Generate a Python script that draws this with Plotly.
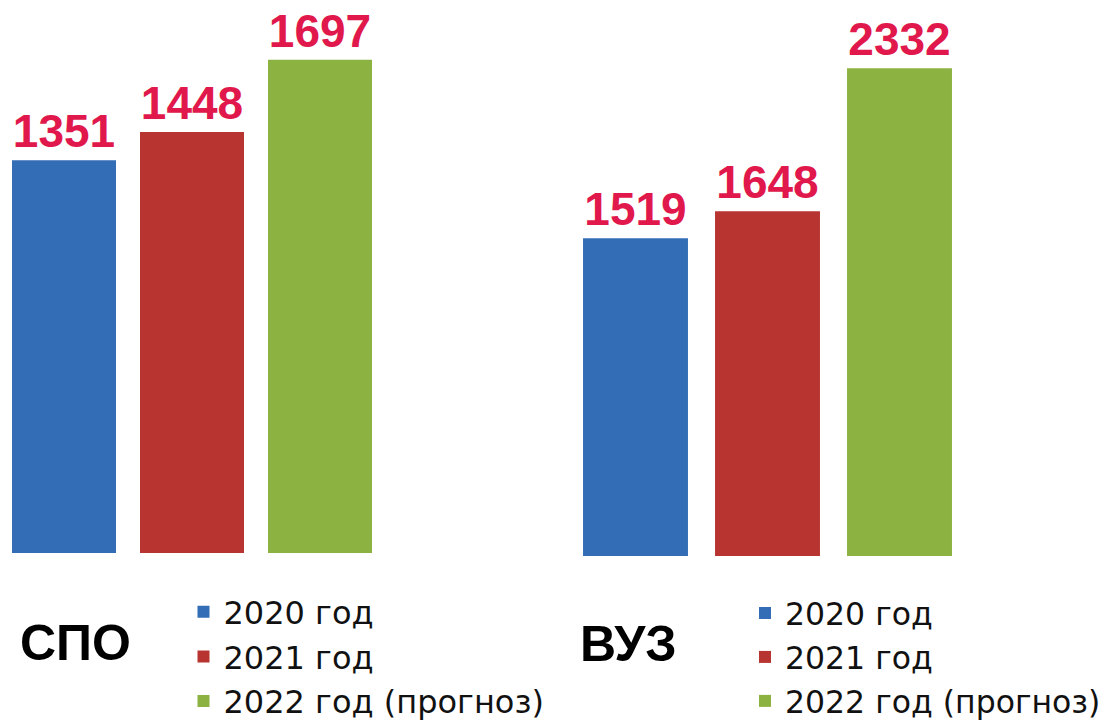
import plotly.graph_objects as go

years = ["2020 год", "2021 год", "2022 год (прогноз)"]
spo_values = [1351, 1448, 1697]
vuz_values = [1519, 1648, 2332]
group_titles = ["СПО", "ВУЗ"]
colors = ["#336db5", "#b83430", "#8cb241"]
label_color = "#e0184c"
FONT = "Arial, Liberation Sans, sans-serif"
LEGEND_FONT = "DejaVu Sans, Arial, sans-serif"

# page body margin is removed by post_script, so page pixels == figure pixels
OX, OY = 0, 0
W, H = 1120, 740


def fx(p):
    """page x pixel -> paper fraction"""
    return (p - OX) / W


def fy(p):
    """page y pixel -> paper fraction"""
    return (H - (p - OY)) / H


fig = go.Figure()

for i, (yr, v) in enumerate(zip(years, spo_values)):
    fig.add_trace(go.Bar(
        x=[yr], y=[v], width=[0.8125], name=yr,
        marker=dict(color=colors[i], line=dict(width=0)),
        text=[str(v)], textposition="outside", constraintext="none",
        textfont=dict(family=FONT, size=46, color=label_color, weight="bold"),
        cliponaxis=False, xaxis="x", yaxis="y", legend="legend",
        hoverinfo="skip",
    ))

for i, (yr, v) in enumerate(zip(years, vuz_values)):
    fig.add_trace(go.Bar(
        x=[yr], y=[v], width=[0.795], name=yr,
        marker=dict(color=colors[i], line=dict(width=0)),
        text=[str(v)], textposition="outside", constraintext="none",
        textfont=dict(family=FONT, size=46, color=label_color, weight="bold"),
        cliponaxis=False, xaxis="x2", yaxis="y2", legend="legend2",
        hoverinfo="skip",
    ))

axis_common = dict(showgrid=False, zeroline=False, showline=False,
                   showticklabels=False, ticks="", fixedrange=True)

# panel geometry (page pixels)
L_X0, L_X1 = 0, 384
R_X0, R_X1 = 569.5, 965.5
TOP = 0
L_BOT, R_BOT = 553, 556
L_SCALE, R_SCALE = 0.2907, 0.2092

fig.update_layout(
    width=W, height=H, autosize=False,
    margin=dict(l=0, r=0, t=0, b=0, autoexpand=False),
    paper_bgcolor="white", plot_bgcolor="white",
    barmode="overlay",
    font=dict(family=FONT, color="black"),
    xaxis=dict(domain=[fx(L_X0), fx(L_X1)], range=[-0.5, 2.5], anchor="y", **axis_common),
    yaxis=dict(domain=[fy(L_BOT), fy(TOP)], range=[0, (L_BOT - TOP) / L_SCALE],
               anchor="x", **axis_common),
    xaxis2=dict(domain=[fx(R_X0), fx(R_X1)], range=[-0.5, 2.5], anchor="y2", **axis_common),
    yaxis2=dict(domain=[fy(R_BOT), fy(TOP)], range=[0, (R_BOT - TOP) / R_SCALE],
                anchor="x2", **axis_common),
    legend=dict(x=fx(183.5), y=fy(584.5), xanchor="left", yanchor="top",
                font=dict(family=LEGEND_FONT, size=32, color="#111111"),
                bgcolor="rgba(0,0,0,0)", tracegroupgap=0, itemclick=False),
    legend2=dict(x=fx(745), y=fy(586), xanchor="left", yanchor="top",
                 font=dict(family=LEGEND_FONT, size=31.5, color="#111111"),
                 bgcolor="rgba(0,0,0,0)", tracegroupgap=0, itemclick=False),
    annotations=[
        dict(text=group_titles[0], x=fx(75), y=fy(643), xref="paper", yref="paper",
             showarrow=False, xanchor="center", yanchor="middle",
             font=dict(family=FONT, size=50, color="black", weight="bold")),
        dict(text=group_titles[1], x=fx(628), y=fy(644), xref="paper", yref="paper",
             showarrow=False, xanchor="center", yanchor="middle",
             font=dict(family=FONT, size=50, color="black", weight="bold")),
    ],
)

fig.write_html(
    "out.html",
    config={"displayModeBar": False, "responsive": False},
    post_script="document.documentElement.style.margin='0';document.body.style.margin='0';",
)
